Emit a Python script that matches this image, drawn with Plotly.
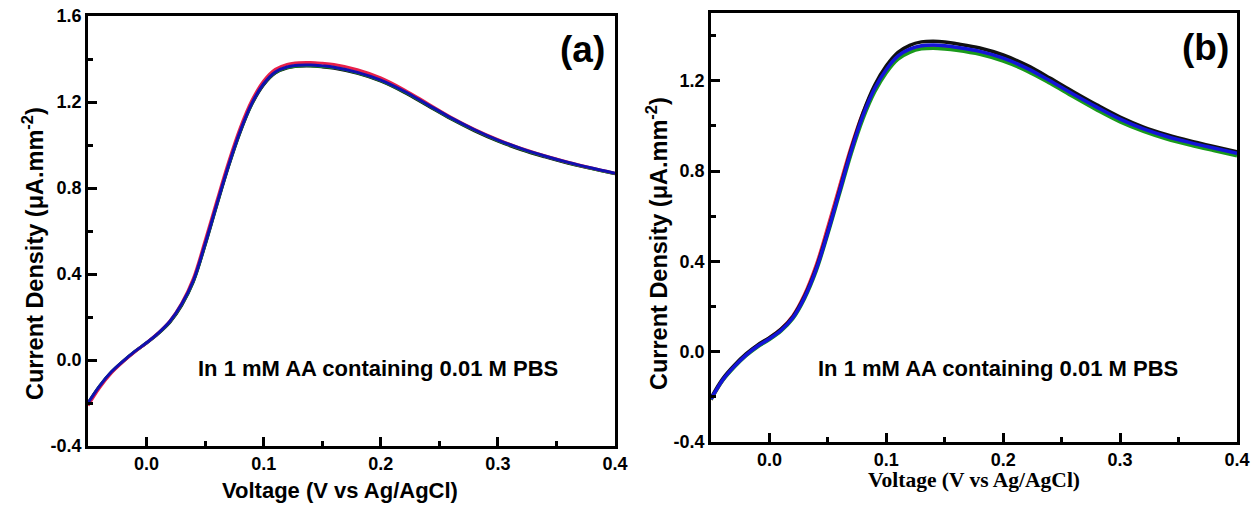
import plotly.graph_objects as go

# ---------------- data ----------------
voltage = [-0.05, -0.04, -0.03, -0.02, -0.01, 0.00, 0.01, 0.02, 0.03, 0.04, 0.05, 0.06,
           0.07, 0.08, 0.09, 0.10, 0.11, 0.12, 0.13, 0.14, 0.15, 0.16, 0.18, 0.20,
           0.22, 0.24, 0.26, 0.28, 0.30, 0.32, 0.34, 0.36, 0.38, 0.40]

# panel (a)
a_black = [-0.203, -0.122, -0.056, -0.006, 0.039, 0.079, 0.123, 0.176, 0.254, 0.364, 0.534, 0.720,
           0.900, 1.060, 1.190, 1.280, 1.335, 1.358, 1.366, 1.367, 1.363, 1.357, 1.333, 1.297,
           1.245, 1.183, 1.121, 1.066, 1.018, 0.978, 0.945, 0.915, 0.890, 0.866]
a_green = [-0.201, -0.121, -0.056, -0.005, 0.040, 0.080, 0.124, 0.178, 0.257, 0.367, 0.537, 0.723,
           0.903, 1.063, 1.193, 1.283, 1.337, 1.360, 1.368, 1.369, 1.365, 1.360, 1.336, 1.300,
           1.248, 1.186, 1.124, 1.069, 1.021, 0.981, 0.947, 0.917, 0.891, 0.867]
a_red = [-0.212, -0.128, -0.060, -0.008, 0.038, 0.080, 0.126, 0.182, 0.264, 0.380, 0.555, 0.740,
         0.920, 1.080, 1.208, 1.298, 1.352, 1.375, 1.383, 1.384, 1.380, 1.374, 1.350, 1.312,
         1.257, 1.193, 1.129, 1.073, 1.025, 0.984, 0.950, 0.920, 0.893, 0.869]
a_blue = [-0.200, -0.120, -0.055, -0.005, 0.040, 0.080, 0.125, 0.180, 0.260, 0.370, 0.540, 0.725,
          0.905, 1.065, 1.195, 1.285, 1.340, 1.363, 1.371, 1.372, 1.368, 1.362, 1.338, 1.302,
          1.250, 1.188, 1.126, 1.071, 1.023, 0.983, 0.949, 0.919, 0.893, 0.869]

# panel (b)
b_red = [-0.212, -0.126, -0.064, -0.013, 0.028, 0.061, 0.100, 0.158, 0.252, 0.382, 0.552, 0.732,
         0.907, 1.057, 1.172, 1.254, 1.310, 1.338, 1.352, 1.355, 1.352, 1.345, 1.327, 1.297,
         1.253, 1.197, 1.137, 1.080, 1.027, 0.984, 0.950, 0.923, 0.899, 0.876]
b_green = [-0.212, -0.128, -0.068, -0.018, 0.022, 0.054, 0.092, 0.146, 0.235, 0.358, 0.522, 0.700,
           0.878, 1.031, 1.150, 1.236, 1.296, 1.326, 1.341, 1.344, 1.341, 1.335, 1.317, 1.287,
           1.244, 1.189, 1.129, 1.071, 1.018, 0.976, 0.942, 0.915, 0.891, 0.868]
b_black = [-0.205, -0.120, -0.060, -0.010, 0.030, 0.062, 0.100, 0.155, 0.245, 0.370, 0.535, 0.715,
           0.898, 1.057, 1.180, 1.266, 1.326, 1.357, 1.372, 1.375, 1.372, 1.364, 1.345, 1.314,
           1.269, 1.212, 1.151, 1.093, 1.039, 0.995, 0.961, 0.933, 0.909, 0.885]
b_blue = [-0.210, -0.125, -0.065, -0.015, 0.025, 0.057, 0.095, 0.150, 0.240, 0.365, 0.530, 0.710,
          0.890, 1.045, 1.165, 1.250, 1.310, 1.340, 1.355, 1.358, 1.355, 1.348, 1.330, 1.300,
          1.256, 1.200, 1.140, 1.083, 1.030, 0.987, 0.953, 0.926, 0.902, 0.879]

x_tick_vals = [0.0, 0.1, 0.2, 0.3, 0.4]
x_tick_text = ["0.0", "0.1", "0.2", "0.3", "0.4"]
x_minor_vals = [0.05, 0.15, 0.25, 0.35]
ya_tick_vals = [-0.4, 0.0, 0.4, 0.8, 1.2, 1.6]
ya_tick_text = ["-0.4", "0.0", "0.4", "0.8", "1.2", "1.6"]
yb_tick_vals = [-0.4, 0.0, 0.4, 0.8, 1.2]
yb_tick_text = ["-0.4", "0.0", "0.4", "0.8", "1.2"]
y_minor_vals = [-0.2, 0.2, 0.6, 1.0, 1.4]

note_text = "In 1 mM AA containing 0.01 M PBS"
y_title = "Current Density (μA.mm<sup>-2</sup>)"
x_title = "Voltage (V vs Ag/AgCl)"

# ---------------- figure ----------------
W, H = 1254, 505
SANS = "Liberation Sans, Arial, sans-serif"
SERIF = "Liberation Serif, Times New Roman, serif"


def px(x):
    return x / W


def py(y):
    return 1 - y / H


fig = go.Figure()

a_series = [(a_black, "#111111"), (a_green, "#1a9a1a"), (a_red, "#e8204a"), (a_blue, "#1010b0")]
for ys, col in a_series:
    fig.add_trace(go.Scatter(x=voltage, y=ys, mode="lines", xaxis="x", yaxis="y",
                             line=dict(color=col, width=3, shape="spline", smoothing=1.0),
                             showlegend=False, hoverinfo="skip"))

b_series = [(b_red, "#e8204a"), (b_green, "#1a9a1a"), (b_black, "#111111"), (b_blue, "#1414d8")]
for ys, col in b_series:
    fig.add_trace(go.Scatter(x=voltage, y=ys, mode="lines", xaxis="x2", yaxis="y2",
                             line=dict(color=col, width=3.5, shape="spline", smoothing=1.0),
                             showlegend=False, hoverinfo="skip"))

tickfont = dict(family=SANS, size=18, color="black", weight="bold")

common_axis = dict(showline=True, linecolor="black", linewidth=2.5, mirror=True,
                   ticks="inside", ticklen=9, tickwidth=2.5, tickcolor="black",
                   showgrid=False, zeroline=False, automargin=False, tickfont=tickfont)

minor_style = dict(ticks="inside", ticklen=5, tickwidth=2.5, tickcolor="black")

fig.update_layout(
    width=W, height=H, autosize=False,
    margin=dict(l=0, r=0, t=0, b=0),
    paper_bgcolor="white", plot_bgcolor="white",
    xaxis=dict(domain=[px(88), px(615)], anchor="y", range=[-0.05, 0.4],
               tickvals=x_tick_vals, ticktext=x_tick_text,
               minor=dict(tickvals=x_minor_vals, **minor_style), **common_axis),
    yaxis=dict(domain=[py(446), py(16)], anchor="x", range=[-0.4, 1.6],
               tickvals=ya_tick_vals, ticktext=ya_tick_text,
               minor=dict(tickvals=y_minor_vals, **minor_style), **common_axis),
    xaxis2=dict(domain=[px(711), px(1237)], anchor="y2", range=[-0.05, 0.4],
                tickvals=x_tick_vals, ticktext=x_tick_text,
                minor=dict(tickvals=x_minor_vals, **minor_style), **common_axis),
    yaxis2=dict(domain=[py(442), py(13)], anchor="x2", range=[-0.4, 1.5],
                tickvals=yb_tick_vals, ticktext=yb_tick_text,
                minor=dict(tickvals=y_minor_vals, **minor_style), **common_axis),
)

big = dict(family=SANS, size=22, color="black", weight="bold")
ytf = dict(family=SANS, size=23.5, color="black", weight="bold")
annos = [
    dict(x=px(33), y=py(254), text=y_title, textangle=-90, font=ytf),
    dict(x=px(657), y=py(244), text=y_title, textangle=-90, font=ytf),
    dict(x=px(340), y=py(490), text=x_title, font=big),
    dict(x=px(974), y=py(480), text=x_title,
         font=dict(family=SERIF, size=21.5, color="black", weight="bold")),
    dict(x=px(378), y=py(368), text=note_text, font=big),
    dict(x=px(998), y=py(368), text=note_text, font=big),
    dict(x=px(582), y=py(50), text="(a)", font=dict(family=SANS, size=37, color="black", weight="bold")),
    dict(x=px(1205), y=py(48), text="(b)", font=dict(family=SANS, size=37, color="black", weight="bold")),
]
for a in annos:
    fig.add_annotation(xref="paper", yref="paper", showarrow=False,
                       xanchor="center", yanchor="middle", **a)

fig.write_html("out.html")
